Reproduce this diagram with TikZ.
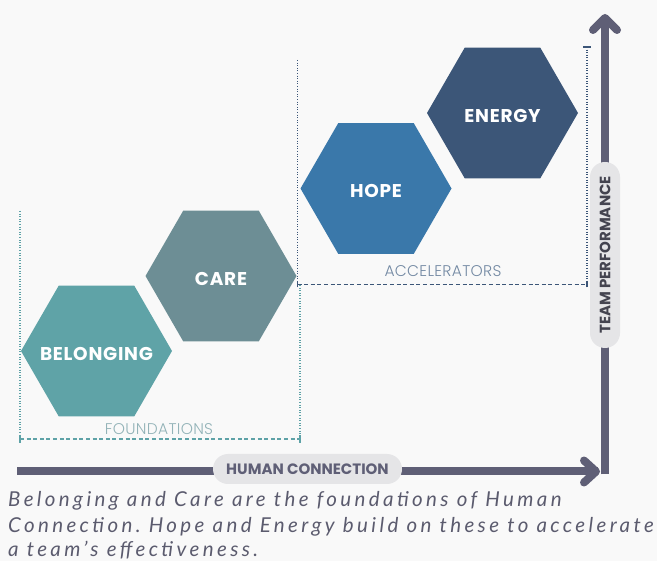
\documentclass[tikz,border=0pt]{standalone}
\usepackage{fontspec}
\usetikzlibrary{shapes.geometric}
\setmainfont{Lato}
\newfontfamily\hexfont{Poppins}[LetterSpace=4]
\newfontfamily\pillfont{Poppins}[LetterSpace=0]
\IfFontExistsTF{Poppins Light}
  {\newfontfamily\thinfont{Poppins Light}[LetterSpace=2]}
  {\newfontfamily\thinfont{Poppins}[LetterSpace=2]}
\newfontfamily\capfont{Lato}[LetterSpace=16.5]
\frenchspacing

\definecolor{bgc}{HTML}{F9F9F9}
\definecolor{belongc}{HTML}{5FA3A7}
\definecolor{carec}{HTML}{6D8E95}
\definecolor{hopec}{HTML}{3A78AA}
\definecolor{energyc}{HTML}{3C5678}
\definecolor{axisc}{HTML}{5F5F76}
\definecolor{pillc}{HTML}{E5E5E7}
\definecolor{capc}{HTML}{5B5B6E}
\definecolor{tealc}{HTML}{5EA2A7}
\definecolor{foundtxt}{HTML}{93B3B8}
\definecolor{acceltxt}{HTML}{7389A3}
\definecolor{teamtxt}{HTML}{444450}

\tikzset{
  hexbox/.style={shape=regular polygon, regular polygon sides=6,
    minimum size=151pt, inner sep=0pt},
  hexlabel/.style={text=white, inner sep=0pt, yshift=-2.5pt,
    font=\hexfont\bfseries\fontsize{18.5}{20}\selectfont},
  axisline/.style={draw=axisc, line width=8pt},
  chevron/.style={draw=axisc, line width=8pt, line cap=round, line join=round},
  pillbox/.style={fill=pillc, rounded corners=15pt, inner sep=0pt,
    minimum height=30pt},
  dotline/.style={line width=1.3pt, dash pattern=on 1pt off 1.6pt},
  dashline/.style={line width=1.8pt, dash pattern=on 4pt off 2.6pt},
  tickline/.style={line width=1.5pt},
  bracketlabel/.style={font=\thinfont\fontsize{15.5}{17}\selectfont, inner sep=0pt},
  captext/.style={font=\capfont\itshape\fontsize{20.5}{25}\selectfont,
    text=capc, anchor=base west, inner sep=0pt}
}

\begin{document}
\begin{tikzpicture}[x=1pt,y=-1pt]
  \useasboundingbox (0,0) rectangle (657,561);
  \fill[bgc] (0,0) rectangle (657,561);

  % four stepping hexagons
  \node[hexbox, fill=belongc, label={[hexlabel]center:BELONGING}] (belonging) at (96.5,351) {};
  \node[hexbox, fill=carec, label={[hexlabel]center:CARE}] (care) at (221,276) {};
  \node[hexbox, fill=hopec, label={[hexlabel]center:HOPE}] (hope) at (376,188.5) {};
  \node[hexbox, fill=energyc, label={[hexlabel]center:ENERGY}] (energy) at (502.5,113) {};

  % foundations bracket
  \coordinate (fl-top) at (20,211);
  \coordinate (fl-bot) at (20,439);
  \coordinate (fr-top) at (300,285);
  \coordinate (fr-bot) at (300,439);
  \draw[dotline, tealc] (fl-top) -- (fl-bot);
  \draw[dotline, tealc] (fr-top) -- (fr-bot);
  \draw[dashline, tealc] (fl-bot) -- (fr-bot);
  \draw[tickline, tealc] ([yshift=-4pt]fl-bot) -- ([yshift=4pt]fl-bot);
  \draw[tickline, tealc] ([yshift=-4pt]fr-bot) -- ([yshift=4pt]fr-bot);
  \node[bracketlabel, text=foundtxt] (foundations) at (159,429) {FOUNDATIONS};

  % accelerators bracket
  \coordinate (al-top) at (297.5,60);
  \coordinate (al-bot) at (297.5,284.5);
  \coordinate (ar-top) at (587,47);
  \coordinate (ar-bot) at (587,284.5);
  \draw[dotline, energyc] (al-top) -- (al-bot);
  \draw[dotline, energyc] (ar-top) -- (ar-bot);
  \draw[dashline, energyc] (al-bot) -- (ar-bot);
  \draw[tickline, energyc] ([yshift=-3pt]al-bot) -- ([yshift=3pt]al-bot);
  \draw[tickline, energyc] ([yshift=-3pt]ar-bot) -- ([yshift=3pt]ar-bot);
  \draw[tickline, energyc] ([xshift=-4pt]ar-top) -- ([xshift=4pt]ar-top);
  \node[bracketlabel, text=acceltxt] (accelerators) at (443,271) {ACCELERATORS};

  % axes
  \coordinate (origin-x) at (17,471.5);
  \coordinate (x-end) at (598,471.5);
  \coordinate (y-start) at (605,474.5);
  \coordinate (y-end) at (605,20);
  \draw[axisline] (origin-x) -- (x-end);
  \draw[axisline] (y-start) -- (y-end);
  \draw[chevron] (584,460.5) -- (596,471.5) -- (584,482.5);
  \draw[chevron] (593,30) -- (605,18) -- (617,30);

  % axis labels
  \node[pillbox, minimum width=189pt, text=axisc,
        font=\pillfont\bfseries\fontsize{15}{16}\selectfont]
        (human) at (307.5,469) {HUMAN CONNECTION};
  \node[pillbox, minimum width=186pt, rotate=90, text=teamtxt,
        font=\pillfont\bfseries\fontsize{15}{16}\selectfont]
        (team) at (605,255) {TEAM PERFORMANCE};

  % caption
  \node[captext] (cap1) at (8,507) {Belonging and Care are the foundations of Human};
  \node[captext] (cap2) at (8,532.5) {Connection. Hope and Energy build on these to accelerate};
  \node[captext] (cap3) at (8,557) {a team’s effectiveness.};
\end{tikzpicture}
\end{document}
